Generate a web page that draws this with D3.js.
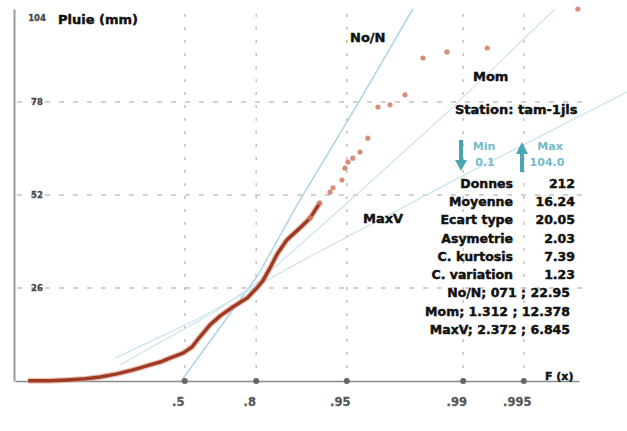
<!DOCTYPE html>
<html>
<head>
<meta charset="utf-8">
<script src="https://cdn.jsdelivr.net/npm/d3@7"></script>
<style>
  body { margin: 0; background: #fff; }
  text { font-family: "DejaVu Sans", Verdana, sans-serif; font-weight: bold; }
</style>
</head>
<body>
<div id="chart"></div>
<script>
// x = reduced variate, y = pluie en mm
var denseU = [-2.28, -1.92, -1.63, -1.33, -1.08, -0.80, -0.53, -0.25, -0.08, 0.08, 0.30, 0.45, 0.58, 0.75, 0.92, 1.13, 1.37, 1.53, 1.63, 1.75, 1.87, 2.03, 2.25, 2.42, 2.58];
var denseV = [0.1, 0.1, 0.3, 0.6, 1.1, 2.0, 3.1, 4.5, 5.3, 6.4, 7.8, 9.5, 12.3, 15.7, 18.2, 20.7, 23.2, 26.0, 28.0, 31.6, 35.5, 39.4, 42.8, 45.6, 49.8];
var sparseU = [2.42, 2.58, 2.75, 2.80, 2.95, 3.00, 3.05, 3.13, 3.25, 3.38, 3.55, 3.75, 4.00, 4.30, 4.70, 5.37, 6.88];
var sparseV = [45.6, 49.8, 52.8, 54.0, 56.2, 59.5, 61.2, 62.3, 64.0, 67.9, 76.6, 77.2, 80.0, 90.3, 92.0, 93.1, 104.0];

var xTickLabels = [".5", ".8", ".95", ".99", ".995"];
var xTickPos = [0.33, 1.52, 3.03, 4.97, 5.98];
var yTicks = [26, 52, 78, 104];

// the three fitted curves
var noNLine = [[0.27, 0], [1.55, 29.6], [2.2, 49.2], [3.22, 77.7], [4.13, 104]];
var momLine = [[-0.75, 4.5], [-0.25, 9.2], [0.8, 19.0], [1.53, 27.4], [3.0, 49.2], [4.75, 75.8], [6.5, 104]];
var maxVLine = [[-0.83, 6.4], [0.58, 17.6], [2.25, 33.3], [4.92, 57.0], [7.7, 80.8]];

var statLabels = ["Donnes", "Moyenne", "Ecart type", "Asymetrie", "C. kurtosis", "C. variation"];
var statValues = ["212", "16.24", "20.05", "2.03", "7.39", "1.23"];
var fitRows = ["No/N; 071 ; 22.95", "Mom; 1.312 ; 12.378", "MaxV; 2.372 ; 6.845"];
var minMax = ["0.1", "104.0"];

var width = 627, height = 431;

var svg = d3.select("#chart").append("svg")
  .attr("width", width)
  .attr("height", height);

var x = d3.scaleLinear().domain([-2.5, 6.9]).range([15, 579]);
var y = d3.scaleLinear().domain([0, 104]).range([381, 9]);

// grid
svg.selectAll(".hgrid")
  .data(yTicks.slice(0, 3))
  .enter().append("line")
  .attr("x1", 17).attr("x2", 590)
  .attr("y1", function(d) { return y(d); })
  .attr("y2", function(d) { return y(d); })
  .attr("stroke", "#cdbfbf")
  .attr("stroke-width", 1.5)
  .attr("stroke-dasharray", "5,9");

svg.selectAll(".vgrid")
  .data(xTickPos)
  .enter().append("line")
  .attr("x1", function(d) { return x(d); })
  .attr("x2", function(d) { return x(d); })
  .attr("y1", y(0)).attr("y2", 9)
  .attr("stroke", "#cdbfbf")
  .attr("stroke-width", 1.5)
  .attr("stroke-dasharray", "3,10");

// fitted curves
var line = d3.line()
  .x(function(d) { return x(d[0]); })
  .y(function(d) { return y(d[1]); });

[noNLine, momLine, maxVLine].forEach(function(l, i) {
  svg.append("path")
    .attr("d", line(l))
    .attr("fill", "none")
    .attr("stroke", i === 0 ? "#acd5e4" : "#cbe4ed")
    .attr("stroke-width", i === 0 ? 1.5 : 1.2);
});

// axes
var xAxis = svg.append("g")
  .attr("transform", "translate(0," + y(0) + ")")
  .call(d3.axisBottom(x).tickValues(xTickPos)
    .tickFormat(function(d, i) { return xTickLabels[i]; })
    .tickSize(0).tickPadding(17));
xAxis.select(".domain").attr("stroke", "#8a8a8a").attr("stroke-width", 1.5);
xAxis.selectAll("text")
  .attr("dx", -7)
  .style("font-size", "11.5px")
  .style("font-family", "DejaVu Sans")
  .style("font-weight", "bold")
  .attr("fill", "#555")
  .attr("stroke", "#666")
  .attr("stroke-width", 0.3);

svg.selectAll(".tdot")
  .data(xTickPos)
  .enter().append("circle")
  .attr("cx", function(d) { return x(d); })
  .attr("cy", y(0))
  .attr("r", 3)
  .attr("fill", "#666");

var yAxis = svg.append("g")
  .attr("transform", "translate(14,0)")
  .call(d3.axisRight(y).tickValues(yTicks).tickSize(0).tickPadding(0));
yAxis.select(".domain").attr("stroke", "#9a9a9a").attr("stroke-width", 2);
yAxis.selectAll("text")
  .attr("x", 23)
  .attr("dy", function(d) { return d === 104 ? "1.4em" : "0.35em"; })
  .style("text-anchor", "middle")
  .style("font-size", "8.5px")
  .style("font-family", "DejaVu Sans")
  .style("font-weight", "bold")
  .attr("fill", "#444")
  .attr("stroke", "#555")
  .attr("stroke-width", 0.3);

// data: dense part as thick line, rest as dots
var denseData = denseU.map(function(u, i) { return [u, denseV[i]]; });
svg.append("path")
  .attr("d", line(denseData))
  .attr("fill", "none")
  .attr("stroke", "#dca596")
  .attr("stroke-width", 6)
  .attr("opacity", 0.6);
svg.append("path")
  .attr("d", line(denseData))
  .attr("fill", "none")
  .attr("stroke", "#a13a22")
  .attr("stroke-width", 3.5)
  .attr("stroke-linejoin", "round");

svg.selectAll(".pt")
  .data(sparseU)
  .enter().append("circle")
  .attr("cx", function(d) { return x(d); })
  .attr("cy", function(d, i) { return y(sparseV[i]); })
  .attr("r", 2.6)
  .attr("fill", "#cf7a62")
  .attr("opacity", 0.85);

// labels
function label(tx, ty, size, s) {
  return svg.append("text").attr("x", tx).attr("y", ty)
    .style("font-size", size + "px")
    .attr("fill", "#111").attr("stroke", "#111").attr("stroke-width", 0.45)
    .text(s);
}
label(58, 24, 13, "Pluie (mm)");
label(350, 42, 13, "No/N");
label(473, 81, 13, "Mom");
label(363, 223, 13, "MaxV");
label(455, 114, 13, "Station: tam-1jls");
label(545, 380, 11, "F (x)");

// min / max
var teal = "#4aa6b5";
svg.append("line").attr("x1", 461).attr("x2", 461).attr("y1", 140).attr("y2", 162)
  .attr("stroke", teal).attr("stroke-width", 4);
svg.append("path").attr("d", "M455,160L467,160L461,171Z").attr("fill", teal);
svg.append("line").attr("x1", 522).attr("x2", 522).attr("y1", 172).attr("y2", 152)
  .attr("stroke", teal).attr("stroke-width", 4);
svg.append("path").attr("d", "M516,154L528,154L522,142Z").attr("fill", teal);
[["Min", 484, 150], [minMax[0], 485, 166], ["Max", 550, 150], [minMax[1], 547, 166]].forEach(function(t) {
  svg.append("text").attr("x", t[1]).attr("y", t[2]).attr("text-anchor", "middle")
    .style("font-size", "11px").attr("fill", "#72bccb").text(t[0]);
});

// stats table
statLabels.forEach(function(s, i) {
  var yy = 188 + i * 18.2;
  label(513, yy, 12.5, s).attr("text-anchor", "end");
  label(575, yy, 12.5, statValues[i]).attr("text-anchor", "end");
});
fitRows.forEach(function(s, i) {
  label(570, 297 + i * 18.5, 12.5, s).attr("text-anchor", "end");
});
</script>
</body>
</html>
